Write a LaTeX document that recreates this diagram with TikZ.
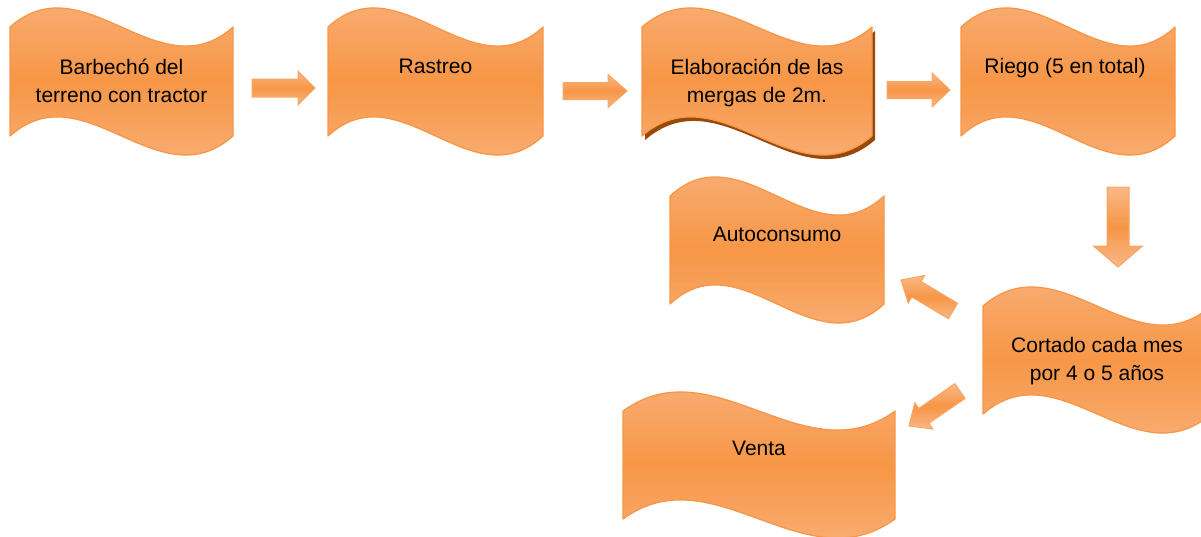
\documentclass[tikz,border=0pt]{standalone}
\usepackage{fontspec}
\setmainfont{Liberation Sans}
\usetikzlibrary{calc}
\definecolor{orMid}{HTML}{F79646}
\definecolor{orLight}{HTML}{F9B888}
\definecolor{orLine}{HTML}{F79646}
\definecolor{shadowBrown}{HTML}{984807}
\tikzset{
  wavefill/.style={draw=orLine, line width=1.2pt, line join=round, top color=orLight, bottom color=orLight, middle color=orMid},
  waveshadow/.style={fill=shadowBrown},
  blockarrow/.style={draw=orLine!85!white, line width=1pt, line join=miter, top color=orLight, bottom color=orLight, middle color=orMid},
  lbl/.style={inner sep=0pt, anchor=base, font=\fontsize{21}{28}\selectfont},
}
% wave shape, each long edge one S-shaped cubic: options, x0, y0 (top peak), width, height
\newcommand{\wavebox}[5]{%
  \path[#1] ({#2},{#3+19})
   .. controls ({#2+#4/3},{#3+19-66}) and ({#2+2*#4/3},{#3+19+66}) .. ({#2+#4},{#3+19})
   -- ({#2+#4},{#3+#5-19})
   .. controls ({#2+2*#4/3},{#3+#5-19+66}) and ({#2+#4/3},{#3+#5-19-66}) .. ({#2},{#3+#5-19})
   -- cycle;}
% block arrow: tail, tip, shaft half width, head half width, head length
\newcommand{\blockarr}[5]{%
  \coordinate (#1h) at ($(#2)!#5pt!(#1)$);
  \path[blockarrow] ($(#1)!#3pt!90:(#2)$) -- ($(#1h)!#3pt!90:(#2)$) -- ($(#1h)!#4pt!90:(#2)$) -- (#2)
    -- ($(#1h)!#4pt!-90:(#2)$) -- ($(#1h)!#3pt!-90:(#2)$) -- ($(#1)!#3pt!-90:(#2)$) -- cycle;}
\newcommand{\twolines}[2]{\begin{tabular}[t]{@{}c@{}}#1\\#2\end{tabular}}
\begin{document}
\begin{tikzpicture}[x=1pt,y=-1pt]
\useasboundingbox (0,0) rectangle (1201,536);
% boxes
\wavebox{wavefill}{10}{8}{223}{147}
\wavebox{wavefill}{328}{8}{215}{147}
\wavebox{waveshadow}{645}{12}{230}{147}
\wavebox{wavefill}{642}{8}{230}{147}
\wavebox{wavefill}{961}{8}{214}{147}
\wavebox{wavefill}{670}{177}{214}{146}
\wavebox{wavefill}{983}{287}{228}{146}
\wavebox{wavefill}{623}{392}{272}{146}
% arrow end points
\coordinate (a12t) at (252,88);  \coordinate (a12e) at (315,88);
\coordinate (a23t) at (563,91);  \coordinate (a23e) at (627,91);
\coordinate (a34t) at (887,90);  \coordinate (a34e) at (950,90);
\coordinate (a46t) at (1118,187); \coordinate (a46e) at (1118,267);
\coordinate (a65t) at (953,311); \coordinate (a65e) at (901,280);
\coordinate (a67t) at (960,391); \coordinate (a67e) at (909,426);
\blockarr{a12t}{a12e}{9}{17}{17}
\blockarr{a23t}{a23e}{8.5}{16.5}{19}
\blockarr{a34t}{a34e}{8.5}{17}{18}
\blockarr{a46t}{a46e}{11}{24.5}{21}
\blockarr{a65t}{a65e}{9}{16}{18}
\blockarr{a67t}{a67e}{9}{16}{18}
% texts
\node[lbl] (t1) at (121.5,74) {\twolines{Barbechó del}{terreno con tractor}};
\node[lbl] (t2) at (435.5,73) {Rastreo};
\node[lbl] (t3) at (757,74) {\twolines{Elaboración de las}{mergas de 2m.}};
\node[lbl] (t4) at (1065,73) {Riego (5 en total)};
\node[lbl] (t5) at (777,241) {Autoconsumo};
\node[lbl] (t6) at (1097,352) {\twolines{Cortado cada mes}{por 4 o 5 años}};
\node[lbl] (t7) at (759,455) {Venta};
\end{tikzpicture}
\end{document}
